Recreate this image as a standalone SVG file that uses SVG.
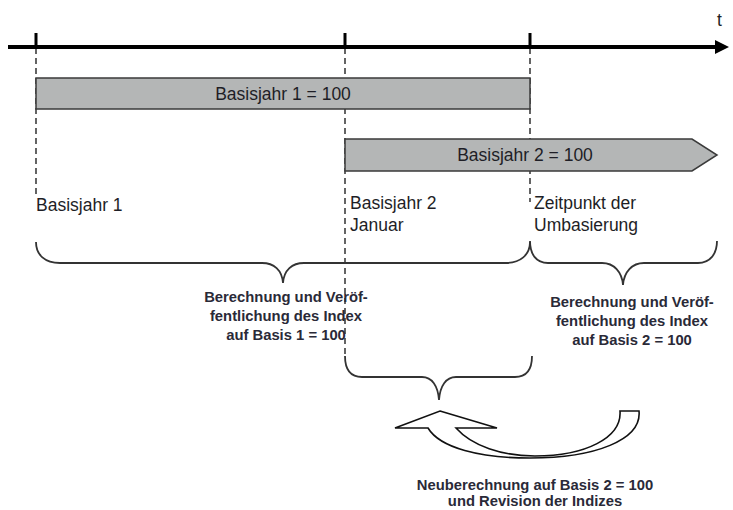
<svg xmlns="http://www.w3.org/2000/svg" width="733" height="510" viewBox="0 0 733 510">
<defs>
<style>
.lbl{font-family:"Liberation Sans",Arial,sans-serif;font-size:17.5px;fill:#1e1e26}
.bar{fill:#b4b6b6;stroke:#3a3a3a;stroke-width:1.5}
.note{font-family:"Liberation Sans",Arial,sans-serif;font-size:14.8px;font-weight:bold;fill:#2a2a38;text-anchor:middle}
.dash{stroke:#111;stroke-width:1.3;stroke-dasharray:6 4;fill:none}
.brace{stroke:#333;stroke-width:1.8;fill:none}
</style>
</defs>
<rect width="733" height="510" fill="#fff"/>
<g id="connectors">
<line class="dash" x1="36" y1="48" x2="36" y2="194"/>
<line class="dash" x1="345" y1="48" x2="345" y2="357"/>
<line class="dash" x1="530" y1="48" x2="530" y2="202"/>
</g>
<g id="axis">
<line x1="8" y1="47" x2="718" y2="47" stroke="#000" stroke-width="4"/>
<polygon points="715,40 729,47 715,54" fill="#000"/>
<line x1="36" y1="33" x2="36" y2="48" stroke="#000" stroke-width="3"/>
<line x1="345" y1="33" x2="345" y2="48" stroke="#000" stroke-width="3"/>
<line x1="530" y1="33" x2="530" y2="48" stroke="#000" stroke-width="3"/>
<text class="lbl" x="717" y="26">t</text>
</g>
<g id="bar1">
<rect class="bar" x="36" y="78" width="494" height="31"/>
<text class="lbl" x="283" y="100" text-anchor="middle">Basisjahr 1 = 100</text>
</g>
<g id="bar2">
<polygon class="bar" points="345,139 692,139 717,155 692,171 345,171"/>
<text class="lbl" x="525" y="161" text-anchor="middle">Basisjahr 2 = 100</text>
</g>
<g id="label-basisjahr1">
<text class="lbl" x="36" y="211">Basisjahr 1</text>
</g>
<g id="label-basisjahr2">
<text class="lbl" x="350" y="209">Basisjahr 2</text>
<text class="lbl" x="350" y="231">Januar</text>
</g>
<g id="label-zeitpunkt">
<text class="lbl" x="534" y="209">Zeitpunkt der</text>
<text class="lbl" x="534" y="231">Umbasierung</text>
</g>
<g id="brace-left">
<path class="brace" d="M36,242 C36,255 45,263 60,263 L262,263 C274,263 282,270 283,283 C284,270 292,263 304,263 L506,263 C520,263 530,255 530,242"/>
<text class="note" x="286" y="302">Berechnung und Veröf-</text>
<text class="note" x="286" y="321">fentlichung des Index</text>
<text class="note" x="286" y="340">auf Basis 1 = 100</text>
</g>
<g id="brace-right">
<path class="brace" d="M530,241 C530,254 536,263 548,263 L602,263 C614,263 622,272 623,285 C624,272 632,263 644,263 L698,263 C710,263 717,254 717,241"/>
<text class="note" x="632" y="307">Berechnung und Veröf-</text>
<text class="note" x="632" y="326">fentlichung des Index</text>
<text class="note" x="632" y="345">auf Basis 2 = 100</text>
</g>
<g id="brace-bottom">
<path class="brace" d="M345,356 C345,370 350,377 362,377 L422,377 C432,377 438,386 439,400 C440,386 446,377 456,377 L515,377 C527,377 532,370 532,356"/>
</g>
<g id="revision-arrow">
<path d="M440,411 L497,428 L456,428 C472,446 502,456 535,456 C585,456 622,438 620,411 L639,411 C642,440 595,458 530,458 C480,458 440,448 428,428 L395,428 Z" fill="#fff" stroke="#111" stroke-width="1.6" stroke-linejoin="miter"/>
<text class="note" x="535" y="490">Neuberechnung auf Basis 2 = 100</text>
<text class="note" x="535" y="506">und Revision der Indizes</text>
</g>
</svg>
